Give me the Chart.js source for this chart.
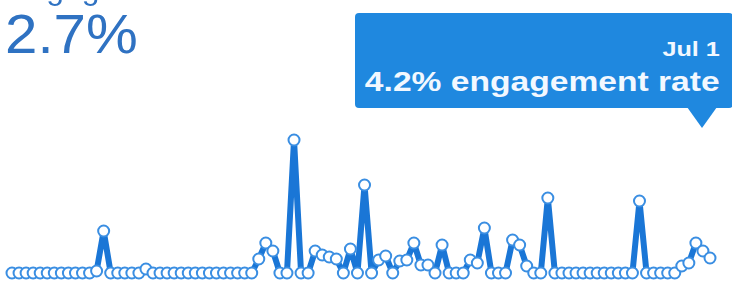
<!DOCTYPE html>
<html>
<head>
<meta charset="utf-8">
<script src="https://cdn.jsdelivr.net/npm/chart.js@4.4.1/dist/chart.umd.min.js"></script>
<style>
  html, body { margin: 0; padding: 0; background: #fff; }
  #wrap { position: relative; width: 732px; height: 284px; overflow: hidden; font-family: "Liberation Sans", Arial, sans-serif; }
  #chart { position: absolute; left: 0; top: 0; }
  .title { position: absolute; left: 7px; top: -30px; font-size: 32px; color: #2f72c2; white-space: nowrap; }
  .big { position: absolute; left: 5px; top: 1px; font-size: 56px; color: #2f72c2; white-space: nowrap; transform: scaleX(1.04); transform-origin: left center; }
  .tip { position: absolute; left: 355px; top: 13px; width: 378px; height: 95px; background: #1f88df; border-radius: 4px; color: #f2f8ff; font-weight: bold; }
  .tip .l { position: absolute; right: 13px; white-space: nowrap; transform: scaleX(1.2); transform-origin: right center; }
  .tip .d { top: 24px; font-size: 21px; }
  .tip .v { top: 53px; font-size: 28px; }
  .caret { position: absolute; left: 687px; top: 107px; width: 0; height: 0; border-left: 15px solid transparent; border-right: 15px solid transparent; border-top: 21px solid #1f88df; }
</style>
</head>
<body>
<div id="wrap">
  <canvas id="chart" width="732" height="284"></canvas>
  <div class="title">Engagement</div>
  <div class="big">2.7%</div>
  <div class="tip"><div class="l d">Jul 1</div><div class="l v">4.2% engagement rate</div></div>
  <div class="caret"></div>
</div>
<script>
// daily engagement rate (%), Mar 24 - Jul 1
const monthNames = ['Mar', 'Apr', 'May', 'Jun', 'Jul'];
const startDate = new Date(2017, 2, 24);
const rates = [
  0, 0, 0, 0, 0, 0, 0, 0, 0, 0, 0, 0, 0.2, 4.2, 0, 0, 0, 0, 0, 0.4,
  0, 0, 0, 0, 0, 0, 0, 0, 0, 0, 0, 0, 0, 0, 0, 1.4, 3.0, 2.2, 0, 0,
  13.3, 0, 0, 2.2, 1.8, 1.6, 1.4, 0, 2.4, 0, 8.8, 0, 1.3, 1.7, 0, 1.2, 1.3, 3.0, 0.8, 0.8,
  0, 2.8, 0, 0, 0, 1.3, 1.0, 4.5, 0, 0, 0, 3.3, 2.8, 0.7, 0, 0, 7.5, 0, 0, 0,
  0, 0, 0, 0, 0, 0, 0, 0, 0, 7.2, 0, 0, 0, 0, 0, 0.7, 1.0, 3.0, 2.2, 1.5
];

const labels = rates.map((_, i) => {
  const d = new Date(startDate.getTime());
  d.setDate(d.getDate() + i);
  return monthNames[d.getMonth() - 2] + ' ' + d.getDate();
});

const ctx = document.getElementById('chart').getContext('2d');
new Chart(ctx, {
  type: 'line',
  data: {
    labels: labels,
    datasets: [{
      label: 'engagement rate',
      data: rates,
      borderColor: '#1a76d6',
      borderWidth: 6,
      borderJoinStyle: 'round',
      tension: 0,
      fill: false,
      clip: false,
      pointRadius: 5.5,
      pointBorderWidth: 2,
      pointBackgroundColor: '#ffffff',
      pointBorderColor: '#3a8ee2'
    }]
  },
  options: {
    responsive: false,
    animation: false,
    events: [],
    layout: { padding: { left: 12, right: 22, top: 133, bottom: 11 } },
    plugins: { legend: { display: false }, tooltip: { enabled: false } },
    scales: {
      x: { display: false },
      y: { display: false, min: 0, max: 14 }
    }
  }
});
</script>
</body>
</html>
